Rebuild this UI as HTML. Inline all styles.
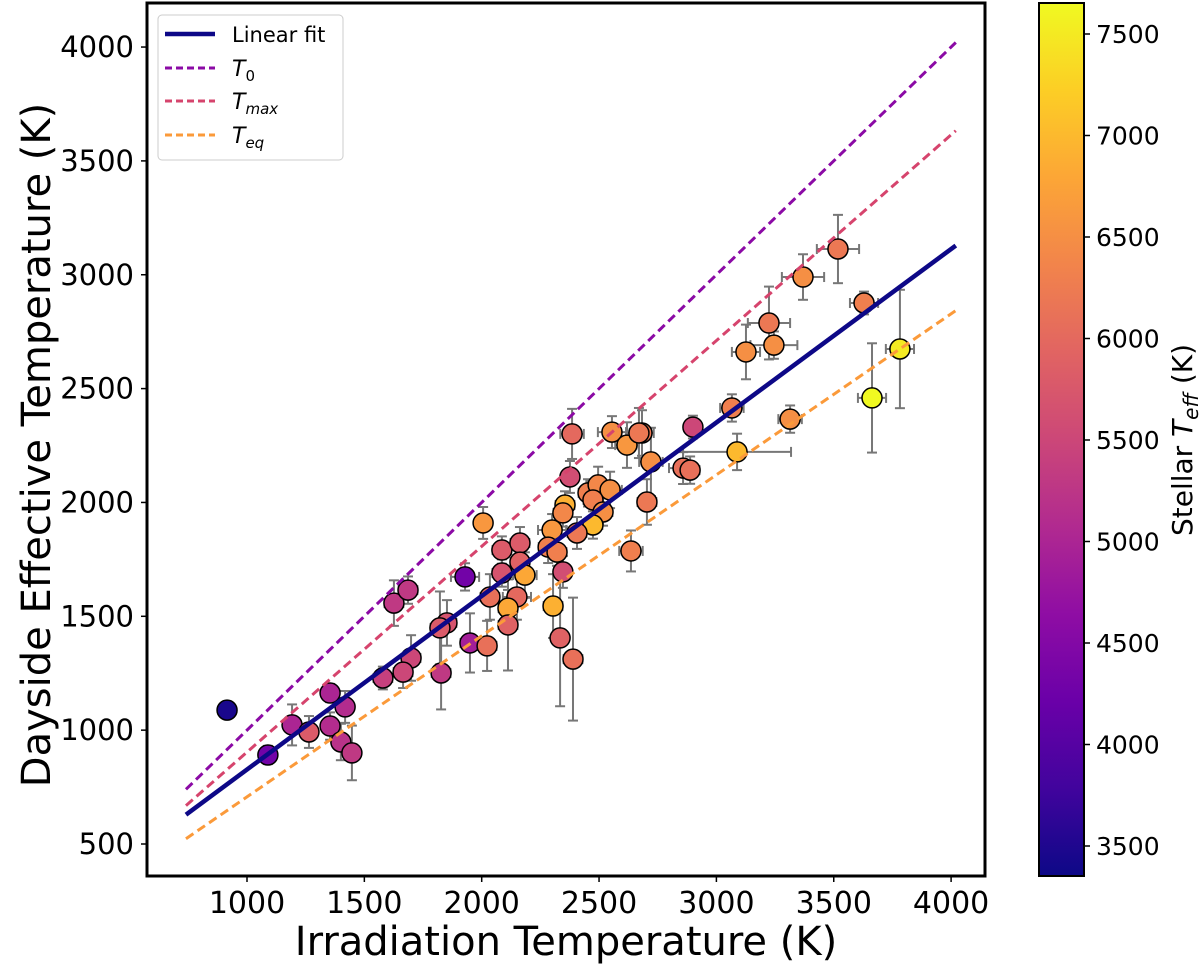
<!DOCTYPE html>
<html><head><meta charset="utf-8">
<style>
html,body{margin:0;padding:0;background:#fff;}
svg{display:block;font-family:"DejaVu Sans","Liberation Sans",sans-serif;}
</style></head>
<body>
<svg id="chart" width="1200" height="969" viewBox="0 0 1200 969" xmlns="http://www.w3.org/2000/svg">
<defs>
<linearGradient id="plasma" x1="0" y1="1" x2="0" y2="0">
<stop offset="0" stop-color="#0d0887"/><stop offset="0.1" stop-color="#41049d"/><stop offset="0.2" stop-color="#6a00a8"/><stop offset="0.3" stop-color="#8f0da4"/><stop offset="0.4" stop-color="#b12a90"/><stop offset="0.5" stop-color="#cc4778"/><stop offset="0.6" stop-color="#e16462"/><stop offset="0.7" stop-color="#f2844b"/><stop offset="0.8" stop-color="#fca636"/><stop offset="0.9" stop-color="#fcce25"/><stop offset="1" stop-color="#f0f921"/>
</linearGradient>
<clipPath id="plotclip"><rect x="147" y="3" width="838" height="873"/></clipPath>
</defs>
<g id="errs" clip-path="url(#plotclip)"></g>
<g id="pts"></g>
<g id="lines" clip-path="url(#plotclip)"></g>
<rect x="147" y="3" width="838" height="873" fill="none" stroke="#000" stroke-width="3"/>
<g id="xticks"></g>
<g id="yticks"></g>
<text x="566" y="955" font-size="40" text-anchor="middle">Irradiation Temperature (K)</text>
<text transform="translate(50,445) rotate(-90)" font-size="40" text-anchor="middle">Dayside Effective Temperature (K)</text>
<g>
<rect x="158" y="15" width="185" height="145" rx="4" fill="#fff" fill-opacity="0.85" stroke="#ccc" stroke-width="1"/>
<line x1="165" y1="34" x2="215" y2="34" stroke="#0d0887" stroke-width="4.5"/>
<text x="232" y="42" font-size="21">Linear fit</text>
<line x1="165" y1="68" x2="215" y2="68" stroke="#8b0aa5" stroke-width="3" stroke-dasharray="7,4"/>
<text x="232" y="76" font-size="22" font-style="italic">T<tspan font-size="15" dy="5" font-style="normal">0</tspan></text>
<line x1="165" y1="101" x2="215" y2="101" stroke="#d6446d" stroke-width="3" stroke-dasharray="7,4"/>
<text x="232" y="109" font-size="22" font-style="italic">T<tspan font-size="15" dy="5">max</tspan></text>
<line x1="165" y1="135" x2="215" y2="135" stroke="#fb9a3a" stroke-width="3" stroke-dasharray="7,4"/>
<text x="232" y="143" font-size="22" font-style="italic">T<tspan font-size="15" dy="5">eq</tspan></text>
</g>
<rect x="1039" y="3" width="45" height="873" fill="url(#plasma)" stroke="#000" stroke-width="2"/>
<g id="cticks"></g>
<text transform="translate(1192,440) rotate(-90)" font-size="28" text-anchor="middle">Stellar <tspan font-style="italic">T</tspan><tspan font-style="italic" font-size="20" dy="6">eff</tspan><tspan dy="-6"> (K)</tspan></text>
</svg>
<script>
const xVals=[3518,3369,3629,3224,3245,3126,3782,3663,3066,2900,3314,3088,2858,2888,2721,2704,2683,2385,2555,2619,2670,2376,2636,2453,2496,2547,2474,2517,2355,2346,2474,2406,2300,2283,2321,2346,2006,1929,2086,2163,2163,2086,2184,2035,2150,2112,2112,2304,2334,2389,1950,2023,1852,1822,1827,1699,1665,1579,1626,1686,915,1089,1192,1264,1354,1418,1354,1400,1447];
const yVals=[3113,2990,2876,2788,2691,2661,2674,2459,2415,2331,2366,2222,2151,2142,2178,2002,2305,2301,2309,2252,2305,2112,1787,2042,2077,2055,2011,1958,1989,1954,1901,1866,1879,1804,1782,1695,1910,1673,1791,1822,1738,1690,1681,1585,1585,1536,1462,1545,1405,1312,1383,1370,1471,1449,1251,1317,1255,1229,1558,1615,1088,891,1023,992,1163,1102,1018,948,900];
const teffVals=[6200,6500,6300,6200,6500,6500,7500,7650,6300,5500,6500,7000,6100,6100,6500,6200,6200,6000,6500,6600,6200,5600,6300,6300,6400,6500,6300,6500,6900,6400,7000,6200,6600,6300,6300,5600,6600,4300,5800,5800,5900,5700,6800,6100,6000,6800,5900,6900,5900,6100,4900,6100,5700,5800,5300,5500,5500,5400,5300,5300,3450,4300,5000,5800,5000,5100,5100,5200,5300];
const xErrVals=[90,90,60,90,100,60,60,60,50,30,50,230,60,40,50,40,50,50,60,50,50,30,50,40,50,50,40,40,40,40,40,40,60,40,40,30,30,60,40,40,40,40,50,40,60,40,40,40,30,40,40,40,40,40,40,40,40,40,40,40,25,20,30,25,25,30,25,25,25];
const yErrVals=[150,100,50,160,60,120,260,240,60,50,60,80,70,60,150,100,100,110,70,100,110,70,90,60,80,80,80,60,60,60,60,70,70,70,60,70,70,60,60,70,70,60,100,100,100,80,200,140,300,270,130,110,100,160,160,100,70,50,100,60,20,40,90,70,40,70,60,80,120];
const tickX=[1000,1500,2000,2500,3000,3500,4000];
const tickY=[500,1000,1500,2000,2500,3000,3500,4000];
const tickC=[3500,4000,4500,5000,5500,6000,6500,7000,7500];
const fitSlope=0.762, fitIntercept=65;
const t0Factor=1.0, tmaxFactor=0.9036, teqFactor=0.7071;
const lineRange=[740,4020];

const NS='http://www.w3.org/2000/svg';
function sx(v){return 247+(v-1000)*0.2347;}
function sy(v){return 844-(v-500)*0.2277;}
function sc(v){return 846-(v-3500)*0.2030;}
const stops=[[13,8,135],[65,4,157],[106,0,168],[143,13,164],[177,42,144],[204,71,120],[225,100,98],[242,132,75],[252,166,54],[252,206,37],[240,249,33]];
function plasma(t){t=Math.max(0,Math.min(1,t));const f=t*10,i=Math.min(9,Math.floor(f)),r=f-i;const a=stops[i],b=stops[i+1];return 'rgb('+a.map((c,k)=>Math.round(c+(b[k]-c)*r)).join(',')+')';}
function mk(tag,attrs,parent){const e=document.createElementNS(NS,tag);for(const k in attrs)e.setAttribute(k,attrs[k]);parent.appendChild(e);return e;}
const errs=document.getElementById('errs'),pts=document.getElementById('pts'),lines=document.getElementById('lines');
const eStyle={stroke:'#777',"stroke-width":2};
for(let i=0;i<xVals.length;i++){
  const cx=sx(xVals[i]),cy=sy(yVals[i]);
  const x0=sx(xVals[i]-xErrVals[i]),x1=sx(xVals[i]+xErrVals[i]);
  const y0=sy(yVals[i]-yErrVals[i]),y1=sy(yVals[i]+yErrVals[i]);
  const g=mk('g',{},errs);
  
  
  mk('line',Object.assign({x1:x0,y1:cy,x2:x1,y2:cy},eStyle),g);
  mk('line',Object.assign({x1:cx,y1:y0,x2:cx,y2:y1},eStyle),g);
  mk('line',Object.assign({x1:x0,y1:cy-5,x2:x0,y2:cy+5},eStyle),g);
  mk('line',Object.assign({x1:x1,y1:cy-5,x2:x1,y2:cy+5},eStyle),g);
  mk('line',Object.assign({x1:cx-5,y1:y0,x2:cx+5,y2:y0},eStyle),g);
  mk('line',Object.assign({x1:cx-5,y1:y1,x2:cx+5,y2:y1},eStyle),g);
  const c=mk('circle',{cx:cx,cy:cy,r:10,fill:plasma((teffVals[i]-3352)/(7653-3352)),stroke:'#000',"stroke-width":1.5},pts);
  
  
}
function addLine(f,color,w,dash,name){
  const l=mk('line',{x1:sx(lineRange[0]),y1:sy(f(lineRange[0])),x2:sx(lineRange[1]),y2:sy(f(lineRange[1])),stroke:color,"stroke-width":w},lines);
  if(dash)l.setAttribute('stroke-dasharray',dash);
  
  
}
addLine(x=>x*teqFactor,'#fb9a3a',3,'9,5','teq-line');
addLine(x=>x*tmaxFactor,'#d6446d',3,'9,5','tmax-line');
addLine(x=>x*t0Factor,'#8b0aa5',3,'9,5','t0-line');
addLine(x=>fitIntercept+fitSlope*x,'#0d0887',4.5,null,'linear-fit-line');
const xt=document.getElementById('xticks'),yt=document.getElementById('yticks'),ct=document.getElementById('cticks');
tickX.forEach(v=>{
  const l=mk('line',{x1:sx(v),y1:876,x2:sx(v),y2:882,stroke:'#000',"stroke-width":1.5},xt);
  
  
  const t=mk('text',{x:sx(v),y:913,"font-size":30,"text-anchor":"middle"},xt);t.textContent=v;
  
  
});
tickY.forEach(v=>{
  const l=mk('line',{x1:141,y1:sy(v),x2:147,y2:sy(v),stroke:'#000',"stroke-width":1.5},yt);
  
  
  const t=mk('text',{x:134,y:sy(v)+10,"font-size":29,"text-anchor":"end"},yt);t.textContent=v;
  
  
});
tickC.forEach(v=>{
  const l=mk('line',{x1:1084,y1:sc(v),x2:1090,y2:sc(v),stroke:'#000',"stroke-width":1.5},ct);
  
  
  const t=mk('text',{x:1096,y:sc(v)+9,"font-size":25},ct);t.textContent=v;
  
  
});
</script>
</body></html>
